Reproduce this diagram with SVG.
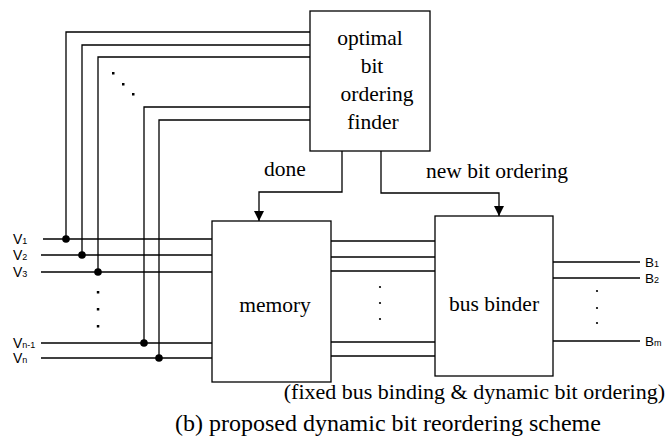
<svg xmlns="http://www.w3.org/2000/svg" width="667" height="441" viewBox="0 0 667 441">
<style>
.ln{fill:none;stroke:#000;stroke-width:1.3}
.box{fill:#fff;stroke:#000;stroke-width:1.3}
.t{font-family:"Liberation Serif","Times New Roman",serif;font-size:21.5px;fill:#000}
.cap1{font-family:"Liberation Serif","Times New Roman",serif;font-size:22px;fill:#000}
.cap2{font-family:"Liberation Serif","Times New Roman",serif;font-size:24px;fill:#000}
.s{font-family:"Liberation Sans",Arial,sans-serif;font-size:14px;fill:#000}
.b{font-family:"Liberation Sans",Arial,sans-serif;font-size:13.5px;fill:#000}
.sub{font-size:9px}
.dot{fill:#000}
</style>
<defs>
<marker id="ah" viewBox="0 0 10 10" refX="10" refY="5" markerWidth="10" markerHeight="11" markerUnits="userSpaceOnUse" orient="auto">
<path d="M0,0 L10,5 L0,10 z" fill="#000"/>
</marker>
</defs>
<g id="connectors">
<path class="ln" d="M310,32 H66 V239"/>
<path class="ln" d="M310,45 H82 V255"/>
<path class="ln" d="M310,57 H98 V272"/>
<path class="ln" d="M310,107 H144 V343"/>
<path class="ln" d="M310,120 H159 V358"/>
<path class="ln" d="M43,239 H212"/>
<path class="ln" d="M41,255 H212"/>
<path class="ln" d="M41,272 H212"/>
<path class="ln" d="M41,343 H212"/>
<path class="ln" d="M41,358 H212"/>
<circle class="dot" cx="66" cy="239" r="3.8"/>
<circle class="dot" cx="82" cy="255" r="3.8"/>
<circle class="dot" cx="98" cy="272" r="3.8"/>
<circle class="dot" cx="144" cy="343" r="3.8"/>
<circle class="dot" cx="159" cy="358" r="3.8"/>
<rect class="dot" x="112" y="72" width="2.5" height="2.5"/>
<rect class="dot" x="122" y="83" width="2.5" height="2.5"/>
<rect class="dot" x="132" y="93" width="2.5" height="2.5"/>
<rect class="dot" x="96.8" y="291" width="2.5" height="2.5"/>
<rect class="dot" x="96.8" y="308" width="2.5" height="2.5"/>
<rect class="dot" x="96.8" y="325" width="2.5" height="2.5"/>
<path class="ln" d="M342,151 V192 H259 V221" marker-end="url(#ah)"/>
<path class="ln" d="M381,151 V193 H499 V216" marker-end="url(#ah)"/>
<path class="ln" d="M331,241 H435"/>
<path class="ln" d="M331,257 H435"/>
<path class="ln" d="M331,271 H435"/>
<path class="ln" d="M331,342 H435"/>
<path class="ln" d="M331,356 H435"/>
<circle class="dot" cx="380" cy="287" r="1.1"/>
<circle class="dot" cx="380" cy="303" r="1.1"/>
<circle class="dot" cx="380" cy="319" r="1.1"/>
<path class="ln" d="M553,262 H640"/>
<path class="ln" d="M553,278 H640"/>
<path class="ln" d="M553,341 H640"/>
<circle class="dot" cx="597" cy="291" r="1.1"/>
<circle class="dot" cx="597" cy="308" r="1.1"/>
<circle class="dot" cx="597" cy="323" r="1.1"/>
<text class="t" x="264" y="176">done</text>
<text class="t" x="426" y="178">new bit ordering</text>
</g>
<g id="finder">
<rect class="box" x="310" y="11" width="120" height="140"/>
<text class="t" x="370" y="45" text-anchor="middle">optimal</text>
<text class="t" x="372" y="73" text-anchor="middle">bit</text>
<text class="t" x="377" y="101" text-anchor="middle">ordering</text>
<text class="t" x="373" y="129" text-anchor="middle">finder</text>
</g>
<g id="memory">
<rect class="box" x="212" y="221" width="119" height="161"/>
<text class="t" x="275" y="312" text-anchor="middle">memory</text>
</g>
<g id="busbinder">
<rect class="box" x="435" y="216" width="118" height="160"/>
<text class="t" x="494" y="311" text-anchor="middle">bus binder</text>
</g>
<g id="labels">
<text class="s" x="13" y="244">V<tspan class="sub">1</tspan></text>
<text class="s" x="13" y="260">V<tspan class="sub">2</tspan></text>
<text class="s" x="13" y="277">V<tspan class="sub">3</tspan></text>
<text class="s" x="13" y="348">V<tspan class="sub">n-1</tspan></text>
<text class="s" x="13" y="363">V<tspan class="sub">n</tspan></text>
<text class="b" x="645" y="267">B<tspan class="sub">1</tspan></text>
<text class="b" x="645" y="283">B<tspan class="sub">2</tspan></text>
<text class="b" x="645" y="346">B<tspan class="sub">m</tspan></text>
<text class="cap1" x="665" y="399" text-anchor="end">(fixed bus binding &amp; dynamic bit ordering)</text>
<text class="cap2" x="175" y="431">(b) proposed dynamic bit reordering scheme</text>
</g>
</svg>
